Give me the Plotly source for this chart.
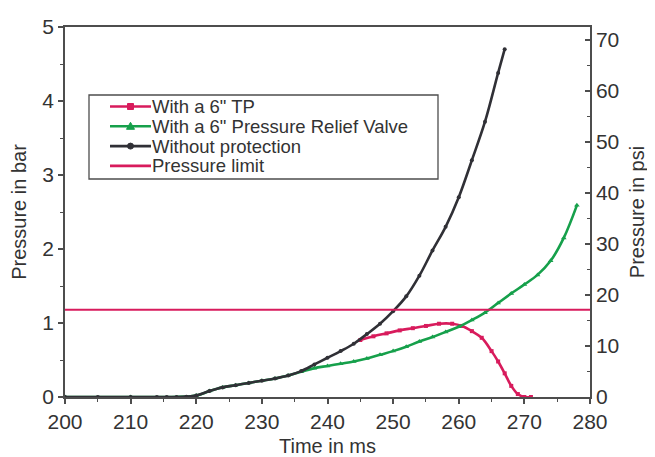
import plotly.graph_objects as go

# ---- data ----
t_none = [200, 205, 210, 214, 215.5, 217, 218.5, 220, 222, 224, 226, 228, 230,
          232, 234, 236, 238, 240, 242, 244, 246, 248, 250, 252, 254, 256, 258, 260, 262,
          264, 266, 267]
p_none = [0, 0, 0, 0, 0, 0, 0.005, 0.02, 0.08, 0.13, 0.16, 0.19, 0.22,
          0.25, 0.29, 0.35, 0.44, 0.53, 0.62, 0.72, 0.85, 0.99, 1.16, 1.36, 1.64, 1.98, 2.30, 2.70, 3.20,
          3.72, 4.38, 4.70]

t_prv = [200, 210, 220, 222, 224, 226, 228, 230, 232, 234, 236, 238, 240, 242,
         244, 246, 248, 250, 252, 254, 256, 258, 260, 262, 264, 266, 268, 270, 272, 274,
         276, 278]
p_prv = [0, 0, 0.02, 0.08, 0.13, 0.16, 0.19, 0.22, 0.25, 0.29, 0.34, 0.39, 0.42, 0.45,
         0.48, 0.52, 0.57, 0.62, 0.68, 0.75, 0.81, 0.88, 0.95, 1.04, 1.14, 1.27, 1.40, 1.52, 1.65, 1.84,
         2.15, 2.59]

t_tp = [245, 247, 249, 251, 253, 255, 257, 259, 260.5, 262, 263.5, 265, 266, 267, 268, 269, 270, 271]
p_tp = [0.77, 0.82, 0.86, 0.90, 0.93, 0.96, 0.99, 0.99, 0.96, 0.89, 0.80, 0.62, 0.48, 0.32, 0.15, 0.04, 0.0, 0.0]

limit_t = [200, 280]
limit_p = [1.18, 1.18]

BAR_TO_PSI = 14.5038
names = ['With a 6" TP', 'With a 6" Pressure Relief Valve', 'Without protection', 'Pressure limit']

RED = "#d81b5c"
GREEN = "#16a04b"
BLACK = "#303036"
AX = "#4d4d4d"
TXT = "#333333"
FONT = "Liberation Sans, Arial, sans-serif"

fig = go.Figure()
fig.add_trace(go.Scatter(x=t_tp, y=p_tp, name=names[0], mode="lines+markers",
                         line=dict(color=RED, width=2.6, shape="spline"),
                         marker=dict(symbol="square", size=4, color=RED)))
fig.add_trace(go.Scatter(x=t_prv, y=p_prv, name=names[1], mode="lines+markers",
                         line=dict(color=GREEN, width=2.6, shape="spline"),
                         marker=dict(symbol="triangle-up", size=5, color=GREEN)))
fig.add_trace(go.Scatter(x=t_none, y=p_none, name=names[2], mode="lines+markers",
                         line=dict(color=BLACK, width=2.6, shape="spline"),
                         marker=dict(symbol="circle", size=4, color=BLACK)))
fig.add_trace(go.Scatter(x=limit_t, y=limit_p, name=names[3], mode="lines",
                         line=dict(color=RED, width=2)))
# psi axis carrier (invisible)
fig.add_trace(go.Scatter(x=[None], y=[None], yaxis="y2", showlegend=False, hoverinfo="skip"))

tickfont = dict(family=FONT, size=21, color=TXT)
titlefont = dict(family=FONT, size=20, color=TXT)

# The page body has an 8px margin, so the figure is laid out 8px in from the corner.
OFF = 8
W, H = 655 - OFF, 457 - OFF
PL, PR, PT, PB = 65 - OFF, 590 - OFF, 27 - OFF, 397 - OFF
def px(x): return (x - OFF - PL) / (PR - PL)
def py(y): return (PB - (y - OFF)) / (PB - PT)

# ---- legend drawn as a framed box with real text (page pixel positions) ----
entry_y = [106.5, 126.3, 146.1, 165.9]
colors = [RED, GREEN, BLACK, RED]
shapes = [dict(type="rect", xref="paper", yref="paper", x0=px(89), x1=px(438), y0=py(179), y1=py(95),
               line=dict(color=AX, width=1.3), fillcolor="white", layer="above")]
annotations = []
for i, (ey, c, nm) in enumerate(zip(entry_y, colors, names)):
    shapes.append(dict(type="line", xref="paper", yref="paper", x0=px(110), x1=px(151), y0=py(ey), y1=py(ey),
                       line=dict(color=c, width=2.6), layer="above"))
    common = dict(xref="paper", yref="paper", xsizemode="pixel", ysizemode="pixel",
                  xanchor=px(130.5), yanchor=py(ey), fillcolor=c, line=dict(color=c, width=1), layer="above")
    if i == 0:
        shapes.append(dict(type="rect", x0=-3, x1=3, y0=-3, y1=3, **common))
    elif i == 1:
        shapes.append(dict(type="path", path="M -4,-3 L 4,-3 L 0,4 Z", **common))
    elif i == 2:
        shapes.append(dict(type="circle", x0=-3, x1=3, y0=-3, y1=3, **common))
    annotations.append(dict(xref="paper", yref="paper", x=px(151), y=py(ey), xanchor="left", yanchor="middle",
                            text=nm, showarrow=False, borderpad=0,
                            font=dict(family=FONT, size=18.5, color=TXT)))

fig.update_layout(
    width=W, height=H,
    margin=dict(l=PL, r=W - PR, t=PT, b=H - PB),
    paper_bgcolor="white", plot_bgcolor="white",
    font=dict(family=FONT, color=TXT),
    showlegend=False,
    shapes=shapes, annotations=annotations,
    xaxis=dict(range=[200, 280], dtick=10, tick0=200, showgrid=False, zeroline=False, automargin=False,
               showline=True, linecolor=AX, linewidth=1.5, mirror=True,
               ticks="outside", ticklen=5, tickwidth=1.5, tickcolor=AX,
               minor=dict(dtick=5, ticks="outside", ticklen=3, tickwidth=1.2, tickcolor=AX),
               tickfont=tickfont, title=dict(text="Time in ms", font=titlefont, standoff=8)),
    yaxis=dict(range=[0, 5], dtick=1, showgrid=False, zeroline=False, automargin=False,
               showline=True, linecolor=AX, linewidth=1.5,
               ticks="outside", ticklen=5, tickwidth=1.5, tickcolor=AX,
               minor=dict(dtick=0.5, ticks="outside", ticklen=3, tickwidth=1.2, tickcolor=AX),
               tickfont=tickfont, title=dict(text="Pressure in bar", font=titlefont, standoff=10)),
    yaxis2=dict(range=[0, 5 * BAR_TO_PSI], dtick=10, overlaying="y", side="right", showgrid=False,
                zeroline=False, automargin=False,
                showline=True, linecolor=AX, linewidth=1.5,
                ticks="inside", ticklen=5, tickwidth=1.5, tickcolor=AX,
                minor=dict(dtick=5, ticks="inside", ticklen=3, tickwidth=1.2, tickcolor=AX),
                tickfont=tickfont, title=dict(text="Pressure in psi", font=titlefont, standoff=12)),
)

fig.write_html("out.html")
